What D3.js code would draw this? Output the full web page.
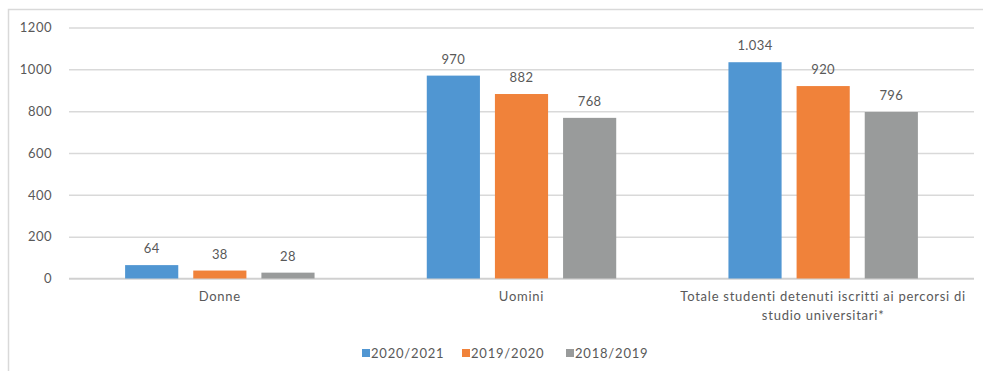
<!DOCTYPE html>
<html>
<head>
<meta charset="utf-8">
<script src="https://cdn.jsdelivr.net/npm/d3@7"></script>
<style>
  html, body { margin: 0; padding: 0; background: #fff; }
  svg text { font-family: Lato, "Open Sans", sans-serif; fill: #595959; }
</style>
</head>
<body>
<svg id="chart" width="983" height="371"></svg>
<script>
// Students in custody enrolled in university courses, by academic year
const categories = ["Donne", "Uomini", "Totale studenti detenuti iscritti ai percorsi di studio universitari*"];
const categoryLines = [["Donne"], ["Uomini"], ["Totale studenti detenuti iscritti ai percorsi di", "studio universitari*"]];
const seriesNames = ["2020/2021", "2019/2020", "2018/2019"];
const values2020_2021 = [64, 970, 1034];
const values2019_2020 = [38, 882, 920];
const values2018_2019 = [28, 768, 796];
const yTicks = [0, 200, 400, 600, 800, 1000, 1200];
const colors = ["#5096D2", "#F0823A", "#999B9B"];

const seriesValues = [values2020_2021, values2019_2020, values2018_2019];

const svg = d3.select("#chart");
const W = 983, H = 371;

// chart frame (top and left edges visible)
svg.append("path")
  .attr("d", `M8.5,${H} V9.5 H${W}`)
  .attr("fill", "none").attr("stroke", "#d9d9d9").attr("stroke-width", 1.5);

const plot = { left: 69, right: 974, top: 27.5, bottom: 278.5 };

const y = d3.scaleLinear().domain([0, 1200]).range([plot.bottom, plot.top]);
const x0 = d3.scaleBand().domain(categories).range([plot.left, plot.right]).paddingInner(0.372).paddingOuter(0.186);
const x1 = d3.scaleBand().domain(seriesNames).range([0, x0.bandwidth()]).paddingInner(0.22);

const it = d3.formatLocale({ decimal: ",", thousands: ".", grouping: [3], currency: ["€", ""] });
const fmt = it.format(",d");

// gridlines and tick labels via axis
const yAxis = d3.axisLeft(y).tickValues(yTicks).tickSize(-(plot.right - plot.left)).tickPadding(17).tickFormat(d3.format("d"));
const ga = svg.append("g").attr("transform", `translate(${plot.left},0)`).call(yAxis);
ga.select(".domain").remove();
ga.selectAll(".tick line").attr("stroke", "#d9d9d9").attr("stroke-width", 1.5);
ga.selectAll(".tick text").attr("font-size", 13).attr("fill", "#595959")
  .attr("font-family", "Lato, sans-serif").attr("letter-spacing", 0.5);

// baseline
svg.append("line").attr("x1", plot.left).attr("x2", plot.right)
  .attr("y1", y(0)).attr("y2", y(0)).attr("stroke", "#d0d0d0").attr("stroke-width", 1.5);

// bars
const groups = svg.append("g").selectAll("g").data(categories).join("g")
  .attr("transform", d => `translate(${x0(d)},0)`);

groups.each(function(cat, ci) {
  const g = d3.select(this);
  seriesNames.forEach((s, si) => {
    const v = seriesValues[si][ci];
    g.append("rect")
      .attr("x", x1(s)).attr("width", x1.bandwidth())
      .attr("y", y(v)).attr("height", y(0) - y(v))
      .attr("fill", colors[si]);
    g.append("text")
      .attr("x", x1(s) + x1.bandwidth() / 2).attr("y", y(v) - 12)
      .attr("text-anchor", "middle").attr("font-size", 13).attr("letter-spacing", 0.4)
      .text(fmt(v));
  });
});

// category labels
categories.forEach((c, ci) => {
  const t = svg.append("text").attr("text-anchor", "middle").attr("font-size", 13)
    .attr("fill", "#404040").attr("letter-spacing", 0.75);
  categoryLines[ci].forEach((line, li) => {
    t.append("tspan").attr("x", x0(c) + x0.bandwidth() / 2).attr("y", 301 + li * 19).text(line);
  });
});

// legend
const legendX = [362, 462, 566];
const lg = svg.append("g");
seriesNames.forEach((s, i) => {
  lg.append("rect").attr("x", legendX[i]).attr("y", 349).attr("width", 8).attr("height", 8).attr("fill", colors[i]);
  lg.append("text").attr("x", legendX[i] + 9).attr("y", 358).attr("font-size", 13)
    .attr("fill", "#404040").attr("letter-spacing", 0.8).text(s);
});
</script>
</body>
</html>
